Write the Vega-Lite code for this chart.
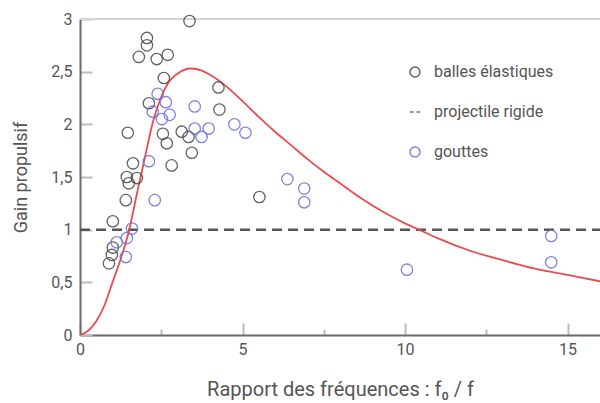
{
  "$schema": "https://vega.github.io/schema/vega-lite/v6.json",
  "width": 520,
  "height": 316,
  "autosize": "none",
  "padding": {"left": 80, "top": 19, "right": 0, "bottom": 68},
  "background": "white",
  "config": {
    "view": {"stroke": null},
    "font": "Roboto",
    "axis": {
      "grid": false,
      "domainColor": "#6b6b6b",
      "domainWidth": 2,
      "tickColor": "#bdbdbd",
      "tickWidth": 2,
      "labelColor": "#555555",
      "labelFont": "Roboto",
      "labelFontSize": 16,
      "labelOverlap": false,
      "labelFlush": false,
      "titleColor": "#555555",
      "titleFont": "Roboto",
      "titleFontSize": 18,
      "titleFontWeight": "normal"
    }
  },
  "datasets": {
    "points": [
      {"x": 3.37, "y": 2.98, "serie": "balles élastiques"},
      {"x": 2.06, "y": 2.82, "serie": "balles élastiques"},
      {"x": 2.06, "y": 2.75, "serie": "balles élastiques"},
      {"x": 1.81, "y": 2.64, "serie": "balles élastiques"},
      {"x": 2.36, "y": 2.62, "serie": "balles élastiques"},
      {"x": 2.70, "y": 2.66, "serie": "balles élastiques"},
      {"x": 2.58, "y": 2.44, "serie": "balles élastiques"},
      {"x": 2.12, "y": 2.20, "serie": "balles élastiques"},
      {"x": 4.26, "y": 2.35, "serie": "balles élastiques"},
      {"x": 4.29, "y": 2.14, "serie": "balles élastiques"},
      {"x": 1.47, "y": 1.92, "serie": "balles élastiques"},
      {"x": 3.13, "y": 1.93, "serie": "balles élastiques"},
      {"x": 2.55, "y": 1.91, "serie": "balles élastiques"},
      {"x": 2.67, "y": 1.82, "serie": "balles élastiques"},
      {"x": 3.44, "y": 1.73, "serie": "balles élastiques"},
      {"x": 3.34, "y": 1.88, "serie": "balles élastiques"},
      {"x": 1.63, "y": 1.63, "serie": "balles élastiques"},
      {"x": 2.82, "y": 1.61, "serie": "balles élastiques"},
      {"x": 1.44, "y": 1.50, "serie": "balles élastiques"},
      {"x": 1.75, "y": 1.49, "serie": "balles élastiques"},
      {"x": 1.50, "y": 1.44, "serie": "balles élastiques"},
      {"x": 1.41, "y": 1.28, "serie": "balles élastiques"},
      {"x": 1.01, "y": 1.08, "serie": "balles élastiques"},
      {"x": 1.01, "y": 0.83, "serie": "balles élastiques"},
      {"x": 0.98, "y": 0.76, "serie": "balles élastiques"},
      {"x": 0.89, "y": 0.68, "serie": "balles élastiques"},
      {"x": 5.52, "y": 1.31, "serie": "balles élastiques"},
      {"x": 2.39, "y": 2.29, "serie": "gouttes"},
      {"x": 2.64, "y": 2.21, "serie": "gouttes"},
      {"x": 2.24, "y": 2.12, "serie": "gouttes"},
      {"x": 2.76, "y": 2.09, "serie": "gouttes"},
      {"x": 2.52, "y": 2.05, "serie": "gouttes"},
      {"x": 3.53, "y": 2.17, "serie": "gouttes"},
      {"x": 3.53, "y": 1.96, "serie": "gouttes"},
      {"x": 3.96, "y": 1.96, "serie": "gouttes"},
      {"x": 3.74, "y": 1.88, "serie": "gouttes"},
      {"x": 2.12, "y": 1.65, "serie": "gouttes"},
      {"x": 2.30, "y": 1.28, "serie": "gouttes"},
      {"x": 4.75, "y": 2.00, "serie": "gouttes"},
      {"x": 5.09, "y": 1.92, "serie": "gouttes"},
      {"x": 6.38, "y": 1.48, "serie": "gouttes"},
      {"x": 6.90, "y": 1.39, "serie": "gouttes"},
      {"x": 6.90, "y": 1.26, "serie": "gouttes"},
      {"x": 10.06, "y": 0.62, "serie": "gouttes"},
      {"x": 14.5, "y": 0.94, "serie": "gouttes"},
      {"x": 14.5, "y": 0.69, "serie": "gouttes"},
      {"x": 1.60, "y": 1.01, "serie": "gouttes"},
      {"x": 1.44, "y": 0.92, "serie": "gouttes"},
      {"x": 1.13, "y": 0.88, "serie": "gouttes"},
      {"x": 1.41, "y": 0.74, "serie": "gouttes"}
    ],
    "curve": [
      {"x": 0, "y": 0}, {"x": 0.25, "y": 0.04}, {"x": 0.5, "y": 0.13},
      {"x": 0.75, "y": 0.28}, {"x": 1.0, "y": 0.5}, {"x": 1.25, "y": 0.72},
      {"x": 1.5, "y": 0.98}, {"x": 1.75, "y": 1.34}, {"x": 2.0, "y": 1.69},
      {"x": 2.25, "y": 2.03}, {"x": 2.5, "y": 2.26}, {"x": 2.75, "y": 2.41},
      {"x": 3.0, "y": 2.48}, {"x": 3.4, "y": 2.53}, {"x": 3.75, "y": 2.51},
      {"x": 4.0, "y": 2.47}, {"x": 4.5, "y": 2.36}, {"x": 5.0, "y": 2.22},
      {"x": 5.5, "y": 2.07}, {"x": 6.0, "y": 1.93}, {"x": 6.5, "y": 1.8},
      {"x": 7.0, "y": 1.67}, {"x": 7.5, "y": 1.55}, {"x": 8.0, "y": 1.44},
      {"x": 8.5, "y": 1.33}, {"x": 9.0, "y": 1.23}, {"x": 9.5, "y": 1.14},
      {"x": 10.0, "y": 1.06}, {"x": 10.5, "y": 0.99}, {"x": 11.0, "y": 0.92},
      {"x": 12.0, "y": 0.8}, {"x": 13.0, "y": 0.71}, {"x": 14.0, "y": 0.63},
      {"x": 15.0, "y": 0.57}, {"x": 16.0, "y": 0.51}
    ],
    "rigide": [
      {"x": 0, "x2": 16, "y": 1, "serie": "projectile rigide"}
    ]
  },
  "layer": [
    {
      "data": {"values": [{"y": 3}]},
      "mark": {"type": "rule", "color": "#d4d4d4", "strokeWidth": 2},
      "encoding": {"y": {"field": "y", "type": "quantitative"}}
    },
    {
      "data": {"name": "rigide"},
      "mark": {"type": "rule", "strokeDash": [10, 6], "strokeWidth": 2.5},
      "encoding": {
        "x": {"field": "x", "type": "quantitative"},
        "x2": {"field": "x2"},
        "y": {"field": "y", "type": "quantitative"},
        "color": {"field": "serie", "type": "nominal"}
      }
    },
    {
      "data": {"name": "curve"},
      "mark": {"type": "line", "color": "#ec4a4f", "strokeWidth": 1.8, "interpolate": "monotone", "clip": true},
      "encoding": {
        "x": {"field": "x", "type": "quantitative"},
        "y": {"field": "y", "type": "quantitative"}
      }
    },
    {
      "data": {"name": "points"},
      "mark": {"type": "point", "filled": false, "size": 130, "strokeWidth": 1.3, "opacity": 0.85},
      "encoding": {
        "x": {
          "field": "x", "type": "quantitative",
          "scale": {"domain": [0, 16], "nice": false},
          "title": "Rapport des fréquences : f₀ / f",
          "axis": {
            "values": [0, 2.5, 5, 7.5, 10, 12.5, 15],
            "labelExpr": "datum.value % 5 === 0 ? datum.label : ''",
            "tickSize": {"condition": {"test": "datum.value % 5 === 0", "value": -12}, "value": -6},
            "labelPadding": 18,
            "titlePadding": 16,
            "titleFontSize": 20
          }
        },
        "y": {
          "field": "y", "type": "quantitative",
          "scale": {"domain": [0, 3], "nice": false},
          "title": "Gain propulsif",
          "axis": {
            "values": [0, 0.25, 0.5, 0.75, 1, 1.25, 1.5, 1.75, 2, 2.25, 2.5, 2.75, 3],
            "labelExpr": "datum.value % 0.5 === 0 ? replace(format(datum.value, '.1~f'), '.', ',') : ''",
            "tickSize": {"condition": {"test": "datum.value % 0.5 === 0", "value": -12}, "value": -6},
            "labelPadding": 20,
            "titlePadding": 20
          }
        },
        "color": {
          "field": "serie", "type": "nominal",
          "scale": {
            "domain": ["balles élastiques", "projectile rigide", "gouttes"],
            "range": ["#4a4a4a", "#555555", "#6c6fd8"]
          },
          "legend": {
            "title": null,
            "orient": "none",
            "legendX": 327,
            "legendY": 45,
            "labelFont": "Roboto",
            "labelFontSize": 16,
            "labelColor": "#555555",
            "rowPadding": 24,
            "labelOffset": 11,
            "encode": {
              "symbols": {
                "update": {
                  "fill": {"value": "transparent"},
                  "strokeWidth": {"signal": "datum.value === 'projectile rigide' ? 2.5 : 1.3"},
                  "size": {"signal": "datum.value === 'projectile rigide' ? 400 : 60"},
                  "opacity": {"value": 0.85}
                }
              }
            }
          }
        },
        "shape": {
          "field": "serie", "type": "nominal",
          "scale": {
            "domain": ["balles élastiques", "projectile rigide", "gouttes"],
            "range": ["circle", "M-1,0H-0.3M0.3,0H1", "circle"]
          }
        }
      }
    }
  ]
}
